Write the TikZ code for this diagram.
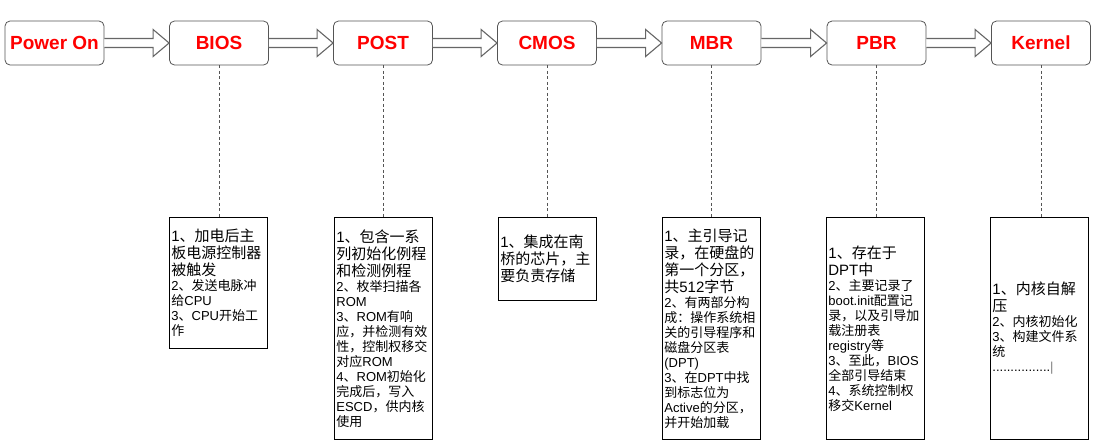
\documentclass[tikz,border=0pt]{standalone}
\usepackage{fontspec}
\setmainfont{Liberation Sans}
\newfontfamily\zhfont{Noto Sans CJK SC}
\usetikzlibrary{calc}
% automatic switch to the CJK font for Chinese characters
\newXeTeXintercharclass\CJKcls
\newcount\mycnt
\newcommand\setcjkrange[2]{\mycnt=#1\relax
  \loop\XeTeXcharclass\mycnt=\CJKcls\relax
  \ifnum\mycnt<#2\relax\advance\mycnt by 1\relax\repeat}
\setcjkrange{"3000}{"303F}
\setcjkrange{"4E00}{"9FFF}
\setcjkrange{"FF00}{"FFEF}
\XeTeXinterchartoks 0 \CJKcls = {\zhfont}
\XeTeXinterchartoks 4095 \CJKcls = {\zhfont}
\XeTeXinterchartoks \CJKcls 0 = {\rmfamily}
\XeTeXinterchartoks 4095 0 = {\rmfamily}
\XeTeXinterchartokenstate=1
\definecolor{hdrline}{HTML}{555555}
\definecolor{arrline}{HTML}{666666}
\definecolor{connline}{HTML}{555555}
\newcommand\Lg{\fontsize{15}{17}\selectfont}
\newcommand\Sm{\fontsize{13}{15}\selectfont}
\newcommand\blkarrow[2]{%
  \draw[blockarrow] ($(#1.east)+(0,-4.5)$) -- ($(#2.west)+(-16,-4.5)$)
    -- ($(#2.west)+(-16,-13.5)$) -- (#2.west) -- ($(#2.west)+(-16,13.5)$)
    -- ($(#2.west)+(-16,4.5)$) -- ($(#1.east)+(0,4.5)$);}
\begin{document}
\begin{tikzpicture}[x=1pt,y=-1pt,
  hdr/.style={draw=hdrline, line width=0.8pt, rounded corners=5pt,
    minimum width=99pt, minimum height=44pt, inner sep=0pt, text=red,
    font=\fontsize{19}{22}\selectfont\bfseries},
  note/.style={draw=black, line width=0.8pt, text width=94pt,
    inner xsep=2pt, inner ysep=0pt, align=left, anchor=north west,
    font=\parindent0pt\Sm},
  blockarrow/.style={draw=arrline, fill=white, line width=1.1pt, line join=miter},
  conn/.style={draw=connline, line width=0.7pt, dash pattern=on 3pt off 2.5pt}]
\useasboundingbox (0,0) rectangle (1098,445);

\node[hdr] (pwr)  at (54.5,43) {Power On};
\node[hdr] (bios) at (219,43)  {BIOS};
\node[hdr] (post) at (383,43)  {POST};
\node[hdr] (cmos) at (547,43)  {CMOS};
\node[hdr] (mbr)  at (711.5,43) {MBR};
\node[hdr] (pbr)  at (876.5,43) {PBR};
\node[hdr] (kern) at (1041,43) {Kernel};

\blkarrow{pwr}{bios}
\blkarrow{bios}{post}
\blkarrow{post}{cmos}
\blkarrow{cmos}{mbr}
\blkarrow{mbr}{pbr}
\blkarrow{pbr}{kern}

\node[note, minimum height=131pt] (biosn) at (169,217) {\Lg 1、加电后主\par 板电源控制器\par 被触发\par
  \Sm 2、发送电脉冲\par 给CPU\par 3、CPU开始工\par 作\par};
\node[note, minimum height=222pt] (postn) at (334,217) {\Lg 1、包含一系\par 列初始化例程\par 和检测例程\par
  \Sm 2、枚举扫描各\par ROM\par 3、ROM有响\par 应，并检测有效\par 性，控制权移交\par 对应ROM\par
  4、ROM初始化\par 完成后，写入\par ESCD，供内核\par 使用\par};
\node[note, minimum height=83pt] (cmosn) at (498,217) {\Lg 1、集成在南\par 桥的芯片，主\par 要负责存储\par};
\node[note, minimum height=222pt] (mbrn) at (662,217) {\Lg 1、主引导记\par 录，在硬盘的\par 第一个分区，\par 共512字节\par
  \Sm 2、有两部分构\par 成：操作系统相\par 关的引导程序和\par 磁盘分区表\par (DPT)\par
  3、在DPT中找\par 到标志位为\par Active的分区，\par 并开始加载\par};
\node[note, minimum height=222pt] (pbrn) at (826,217) {\Lg 1、存在于\par DPT中\par
  \Sm 2、主要记录了\par boot.init配置记\par 录，以及引导加\par 载注册表\par registry等\par
  3、至此，BIOS\par 全部引导结束\par 4、系统控制权\par 移交Kernel\par};
\node[note, minimum height=222pt] (kernn) at (990,217) {\Lg 1、内核自解\par 压\par
  \Sm 2、内核初始化\par 3、构建文件系\par 统\par ................{\color{gray}|}\par};

\draw[conn] (bios.south) -- (bios.south |- biosn.north);
\draw[conn] (post.south) -- (post.south |- postn.north);
\draw[conn] (cmos.south) -- (cmos.south |- cmosn.north);
\draw[conn] (mbr.south)  -- (mbr.south |- mbrn.north);
\draw[conn] (pbr.south)  -- (pbr.south |- pbrn.north);
\draw[conn] (kern.south) -- (kern.south |- kernn.north);
\end{tikzpicture}
\end{document}
